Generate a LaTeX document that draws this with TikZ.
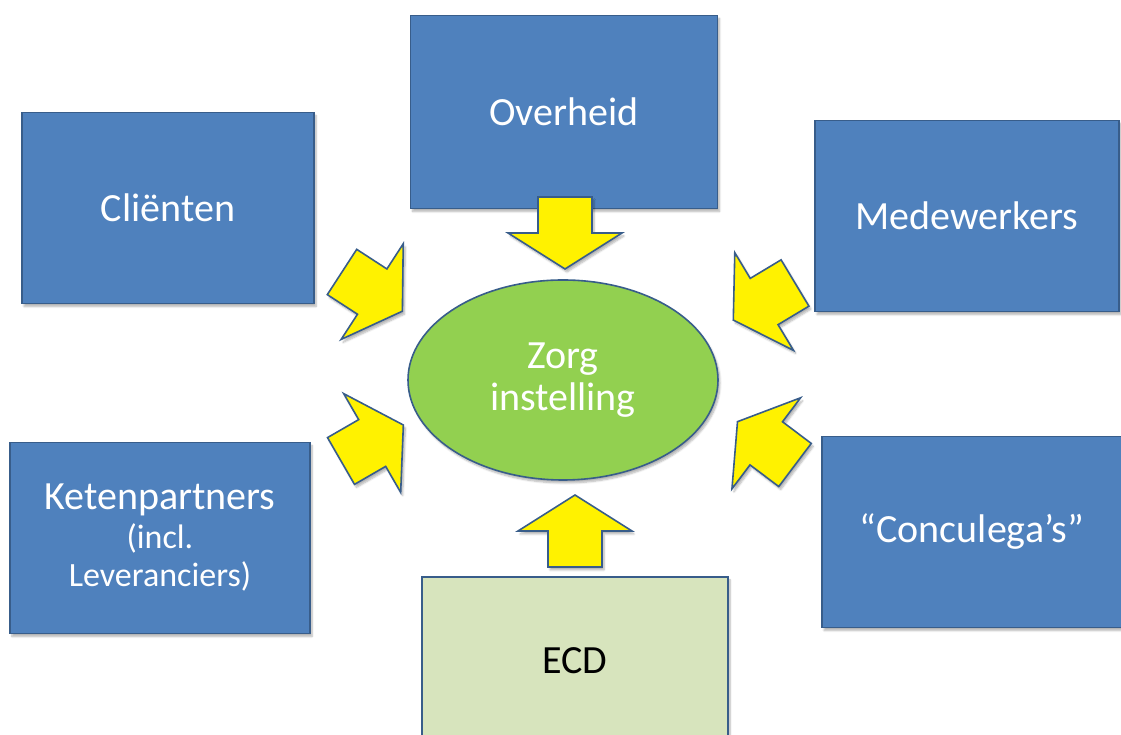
\documentclass[tikz,border=0pt]{standalone}
\usepackage{fontspec}
\setmainfont{Carlito}
\usetikzlibrary{shapes.geometric}
\usetikzlibrary{shadows.blur}

\definecolor{boxblue}{HTML}{4F81BD}
\definecolor{rimblue}{HTML}{385D8A}
\definecolor{zorggreen}{HTML}{92D050}
\definecolor{ecdgreen}{HTML}{D7E4BD}

\newcommand{\sublabel}{\fontsize{34}{38}\selectfont}

\tikzset{
  softshadow/.style={blur shadow={shadow xshift=2pt, shadow yshift=-3pt, shadow blur steps=6, shadow opacity=30}},
  party/.style={draw=rimblue, line width=1.6pt, fill=boxblue, text=white, align=center,
    minimum width=300pt, minimum height=191pt, font=\fontsize{40}{42}\selectfont, softshadow},
  fatarrow/.style={draw=rimblue, line width=1.6pt, fill=yellow, line join=miter, softshadow},
}

\begin{document}
\begin{tikzpicture}[x=1pt,y=1pt]

    % page frame
    \useasboundingbox (0,0) rectangle (1121,735);

    % the parties around the care organisation
    \node[party, minimum width=307pt, minimum height=193pt] (overheid) at (564,623) {Overheid};
    \node[party, minimum width=292pt] (clienten) at (168,527) {Cliënten};
    \node[party, minimum width=304pt] (medewerkers) at (967,519) {Medewerkers};
    \node[party] (keten) at (160,197) {Ketenpartners\\[-3pt]\sublabel (incl.\\[-4pt]\sublabel Leveranciers)};
    \node[party] (concul) at (972,203) {“Conculega’s”};
    \node[party, fill=ecdgreen, text=black, minimum width=306pt, minimum height=168pt] (ecd) at (575,74) {ECD};

    % centre
    \node[ellipse, draw=rimblue, line width=1.6pt, fill=zorggreen, text=white, align=center,
          minimum width=310pt, minimum height=200pt, font=\fontsize{40}{42}\selectfont, softshadow]
          (zorg) at (563,355) {Zorg\\instelling};

    % block arrows pointing inwards (tail x / tail y / direction)
    \foreach \ax/\ay/\ang in {565/538/-90, 575/168/90, 342/463/-33, 341/274/30, 795/452/211, 795/270/143}
        \draw[fatarrow, shift={(\ax,\ay)}, rotate=\ang]
            (0,27) -- (36,27) -- (36,57) -- (72,0) -- (36,-57) -- (36,-27) -- (0,-27) -- cycle;

\end{tikzpicture}
\end{document}
